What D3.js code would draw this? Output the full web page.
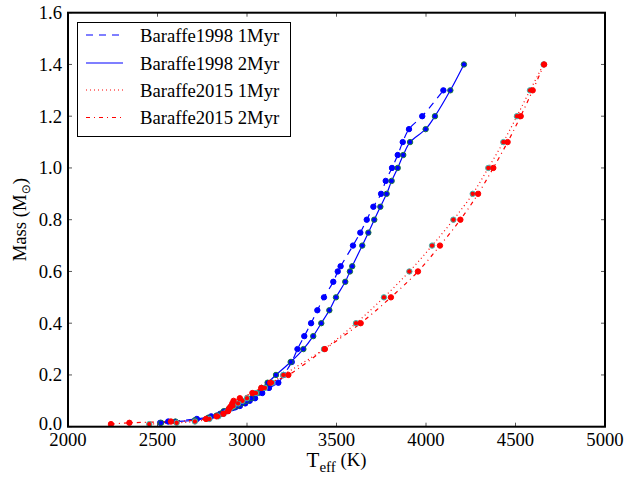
<!DOCTYPE html>
<html>
<head>
<meta charset="utf-8">
<script src="https://cdn.jsdelivr.net/npm/d3@7"></script>
<style>
  html, body { margin: 0; padding: 0; background: #fff; }
  svg { display: block; }
</style>
</head>
<body>
<svg id="chart" width="624" height="477" font-family="'Liberation Serif', 'Times New Roman', Times, 'DejaVu Serif', serif"></svg>
<script>
// ---------------- data ----------------
const b98_1Myr_T = [2515, 2560, 2720, 2800, 2850, 2880, 2905, 2920, 2935, 2960, 2990, 3015, 3045, 3085, 3123, 3175, 3205, 3250, 3282, 3320, 3358, 3393, 3430, 3482, 3507, 3523, 3592, 3633, 3669, 3706, 3749, 3775, 3810, 3842, 3870, 3905, 3979, 4097];
const b98_1Myr_M = [0.015, 0.02, 0.03, 0.04, 0.05, 0.06, 0.07, 0.072, 0.075, 0.08, 0.09, 0.1, 0.11, 0.13, 0.15, 0.17, 0.2, 0.25, 0.3, 0.35, 0.4, 0.45, 0.5, 0.56, 0.6, 0.62, 0.7, 0.75, 0.8, 0.85, 0.9, 0.95, 1.0, 1.05, 1.1, 1.15, 1.2, 1.3];

const b98_2Myr_T = [2520, 2600, 2709, 2784, 2830, 2855, 2870, 2900, 2920, 2942, 2970, 2998, 3025, 3055, 3082, 3115, 3162, 3244, 3315, 3370, 3415, 3460, 3497, 3549, 3575, 3588, 3644, 3678, 3711, 3745, 3780, 3808, 3842, 3873, 3911, 3998, 4050, 4136, 4212];
const b98_2Myr_M = [0.015, 0.02, 0.025, 0.035, 0.043, 0.05, 0.06, 0.07, 0.075, 0.08, 0.09, 0.1, 0.11, 0.13, 0.15, 0.17, 0.2, 0.25, 0.3, 0.35, 0.4, 0.45, 0.5, 0.56, 0.6, 0.62, 0.7, 0.75, 0.8, 0.85, 0.9, 0.95, 1.0, 1.05, 1.1, 1.15, 1.2, 1.3, 1.4];

const b15_1Myr_T = [2454, 2607, 2709, 2790, 2840, 2870, 2890, 2905, 2912, 2925, 2950, 2975, 3000, 3050, 3100, 3140, 3203, 3430, 3609, 3765, 3907, 4034, 4153, 4261, 4348, 4432, 4508, 4581, 4657];
const b15_1Myr_M = [0.01, 0.015, 0.02, 0.03, 0.04, 0.05, 0.06, 0.07, 0.075, 0.08, 0.09, 0.1, 0.11, 0.13, 0.15, 0.17, 0.2, 0.3, 0.4, 0.5, 0.6, 0.7, 0.8, 0.9, 1.0, 1.1, 1.2, 1.3, 1.4];

const b15_2Myr_T = [2240, 2343, 2575, 2771, 2830, 2868, 2894, 2900, 2906, 2912, 2918, 2925, 2960, 3030, 3080, 3130, 3231, 3435, 3635, 3804, 3955, 4078, 4192, 4291, 4376, 4456, 4529, 4596, 4660];
const b15_2Myr_M = [0.01, 0.015, 0.02, 0.03, 0.04, 0.05, 0.06, 0.07, 0.075, 0.08, 0.09, 0.1, 0.11, 0.13, 0.15, 0.17, 0.2, 0.3, 0.4, 0.5, 0.6, 0.7, 0.8, 0.9, 1.0, 1.1, 1.2, 1.3, 1.4];

const xTicks = [2000, 2500, 3000, 3500, 4000, 4500, 5000];
const yTicks = [0.0, 0.2, 0.4, 0.6, 0.8, 1.0, 1.2, 1.4, 1.6];
const legendLabels = ["Baraffe1998 1Myr", "Baraffe1998 2Myr", "Baraffe2015 1Myr", "Baraffe2015 2Myr"];

// ---------------- layout ----------------
const L = 68, R = 605, T = 12.7, B = 426.7;
const svg = d3.select("#chart");
const x = d3.scaleLinear().domain([2000, 5000]).range([L, R]);
const y = d3.scaleLinear().domain([0, 1.6]).range([B, T]);

const zip = (a, b) => a.map((v, i) => [v, b[i]]);
const series = [
  { T: b98_1Myr_T, M: b98_1Myr_M, color: "#0000ff", dash: "7,6", fill: "#0000ff", stroke: "#0000ff" },
  { T: b98_2Myr_T, M: b98_2Myr_M, color: "#0000ff", dash: null, fill: "#0000ff", stroke: "#1a7a3a" },
  { T: b15_1Myr_T, M: b15_1Myr_M, color: "#ff0000", dash: "1,3", fill: "#ff0000", stroke: "#3fb8b0" },
  { T: b15_2Myr_T, M: b15_2Myr_M, color: "#ff0000", dash: "4,4,1,4", fill: "#ff0000", stroke: "#ff0000" }
];

const line = d3.line().x(d => x(d[0])).y(d => y(d[1])).curve(d3.curveCatmullRom.alpha(0.5));

const plot = svg.append("g");
plot.append("clipPath").attr("id", "clip").append("rect")
  .attr("x", L).attr("y", T).attr("width", R - L).attr("height", B - T);
const inner = plot.append("g").attr("clip-path", "url(#clip)");

series.forEach(s => {
  inner.append("path")
    .attr("d", line(zip(s.T, s.M)))
    .attr("fill", "none")
    .attr("stroke", s.color)
    .attr("stroke-width", 1.2)
    .attr("stroke-dasharray", s.dash);
});
series.forEach(s => {
  inner.append("g").selectAll("circle").data(zip(s.T, s.M)).join("circle")
    .attr("cx", d => x(d[0])).attr("cy", d => y(d[1])).attr("r", 2.7)
    .attr("fill", s.fill).attr("stroke", s.stroke).attr("stroke-width", 1);
});

const tickG = svg.append("g").attr("stroke", "#555").attr("stroke-width", 1);
xTicks.forEach(t => {
  tickG.append("line").attr("x1", x(t)).attr("x2", x(t)).attr("y1", B).attr("y2", B - 4);
  tickG.append("line").attr("x1", x(t)).attr("x2", x(t)).attr("y1", T).attr("y2", T + 4);
});
yTicks.forEach(t => {
  tickG.append("line").attr("x1", L).attr("x2", L + 4).attr("y1", y(t)).attr("y2", y(t));
  tickG.append("line").attr("x1", R).attr("x2", R - 4).attr("y1", y(t)).attr("y2", y(t));
});

svg.append("rect").attr("x", L).attr("y", T).attr("width", R - L).attr("height", B - T)
  .attr("fill", "none").attr("stroke", "#000").attr("stroke-width", 2);

const fs = 18.7;
svg.append("g").selectAll("text").data(xTicks).join("text")
  .attr("x", d => x(d)).attr("y", 445.5).attr("text-anchor", "middle")
  .attr("font-size", fs).text(d => d);
svg.append("g").selectAll("text").data(yTicks).join("text")
  .attr("x", 62).attr("y", d => y(d)).attr("dy", d => d === 0 ? "0.2em" : "0.35em").attr("text-anchor", "end")
  .attr("font-size", fs).text(d => d.toFixed(1));

const xl = svg.append("text").attr("x", (L + R) / 2).attr("y", 467).attr("text-anchor", "middle").attr("font-size", 21);
xl.append("tspan").text("T");
xl.append("tspan").attr("font-size", 15).attr("dy", 5).text("eff");
xl.append("tspan").attr("font-size", fs).attr("dy", -6).text(" (K)");

const yl = svg.append("text").attr("transform", `translate(26,${(T + B) / 2}) rotate(-90)`)
  .attr("text-anchor", "middle").attr("font-size", fs);
yl.append("tspan").text("Mass (M");
yl.append("tspan").attr("font-size", 12).attr("dy", 4).attr("font-family", "DejaVu Sans").text("\u2299");
yl.append("tspan").attr("dy", -4).text(")");

const lg = svg.append("g");
lg.append("rect").attr("x", 77.5).attr("y", 22.5).attr("width", 213).attr("height", 114)
  .attr("fill", "#fff").attr("stroke", "#000").attr("stroke-width", 1);
const rowY = [35, 63, 90, 117.5];
series.forEach((s, i) => {
  lg.append("line").attr("x1", 86).attr("x2", 123).attr("y1", rowY[i]).attr("y2", rowY[i])
    .attr("stroke", s.color).attr("stroke-width", 1.2).attr("stroke-dasharray", s.dash);
  lg.append("text").attr("x", 140).attr("y", rowY[i] + 6.5).attr("font-size", fs).text(legendLabels[i]);
});
</script>
</body>
</html>
